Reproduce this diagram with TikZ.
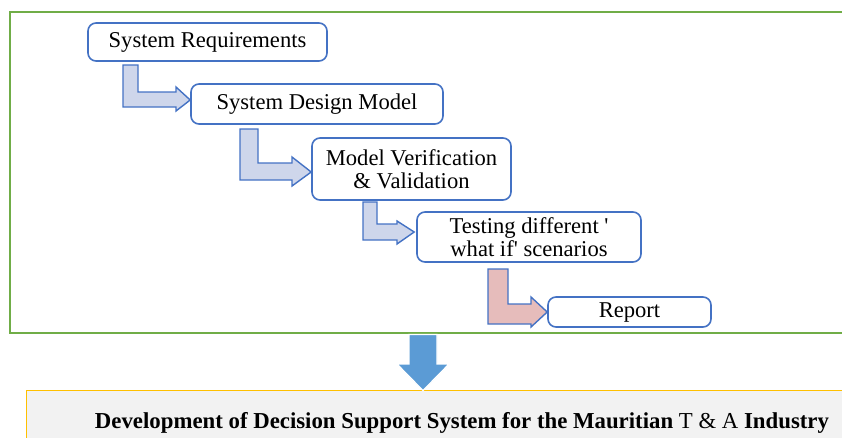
\documentclass[tikz,border=0pt]{standalone}
\usepackage{fontspec}
\setmainfont{Liberation Serif}
\usetikzlibrary{calc}
\definecolor{grn}{HTML}{70AD47}
\definecolor{bdr}{HTML}{4472C4}
\definecolor{arrfill}{HTML}{CED6EB}
\definecolor{pinkfill}{HTML}{E6BCBB}
\definecolor{bigblue}{HTML}{5B9BD5}
\definecolor{ylw}{HTML}{FFC000}
\definecolor{lgray}{HTML}{F2F2F2}
\begin{document}
\begin{tikzpicture}[x=1pt,y=-1pt,
  stepbox/.style={draw=bdr,line width=1.6pt,rounded corners=8pt,fill=white,align=center,
    inner sep=0pt,font=\fontsize{22.6}{23}\selectfont},
  bentarr/.style={draw=bdr,line width=1.4pt,line join=miter}]
\useasboundingbox (0,0) rectangle (842,437);
% outer green frame
\draw[grn,line width=2pt] (848,12) -- (10,12) -- (10,333) -- (848,333);
% bottom yellow box
\node[fill=lgray,anchor=north west,minimum width=830pt,
  minimum height=60pt,inner sep=0pt] (yb) at (26.5,390.5) {};
\draw[ylw,line width=1.5pt] (yb.south west) -- (yb.north west) -- (yb.north east);
\node[anchor=base,inner sep=0pt,font=\fontsize{22.8}{23}\selectfont] (title) at (462,428)
  {\textbf{Development of Decision Support System for the Mauritian} T \& A \textbf{Industry}};
% steps
\node[stepbox,minimum width=239pt,minimum height=38pt] (s1) at (207.5,42) {System Requirements};
\node[stepbox,minimum width=252pt,minimum height=40pt] (s2) at (317,104) {System Design Model};
\node[stepbox,minimum width=199pt,minimum height=62pt] (s3) at (411.5,169) {Model Verification\\\& Validation};
\node[stepbox,minimum width=224pt,minimum height=50pt] (s4) at (529,237) {Testing different \textquotesingle\\what if\textquotesingle\ scenarios};
\node[stepbox,minimum width=163pt,minimum height=30pt] (s5) at (629.5,312) {Report};
% bent arrows
\draw[bentarr,fill=arrfill] (123,65) -- (138,65) -- (138,92) -- (176,92) -- (176,87)
  -- ([yshift=4pt]s2.west) -- (176,111) -- (176,107) -- (123,107) -- cycle;
\draw[bentarr,fill=arrfill] (240,129) -- (258,129) -- (258,163) -- (292,163) -- (292,157)
  -- ([yshift=-3pt]s3.west) -- (292,186) -- (292,180) -- (240,180) -- cycle;
\draw[bentarr,fill=arrfill] (363,202) -- (377,202) -- (377,224) -- (397,224) -- (397,221)
  -- ([xshift=-2pt,yshift=5pt]s4.west) -- (397,244) -- (397,240) -- (363,240) -- cycle;
\draw[bentarr,fill=pinkfill] (488,269) -- (508,269) -- (508,304) -- (531,304) -- (531,297)
  -- (s5.west) -- (531,327) -- (531,324) -- (488,324) -- cycle;
% big down arrow
\draw[white,fill=bigblue,line width=1.2pt] (409,334.5) -- (437,334.5) -- (437,364) -- (449,364)
  -- (yb.north -| 423,0) -- (397,364) -- (409,364) -- cycle;
\end{tikzpicture}
\end{document}
